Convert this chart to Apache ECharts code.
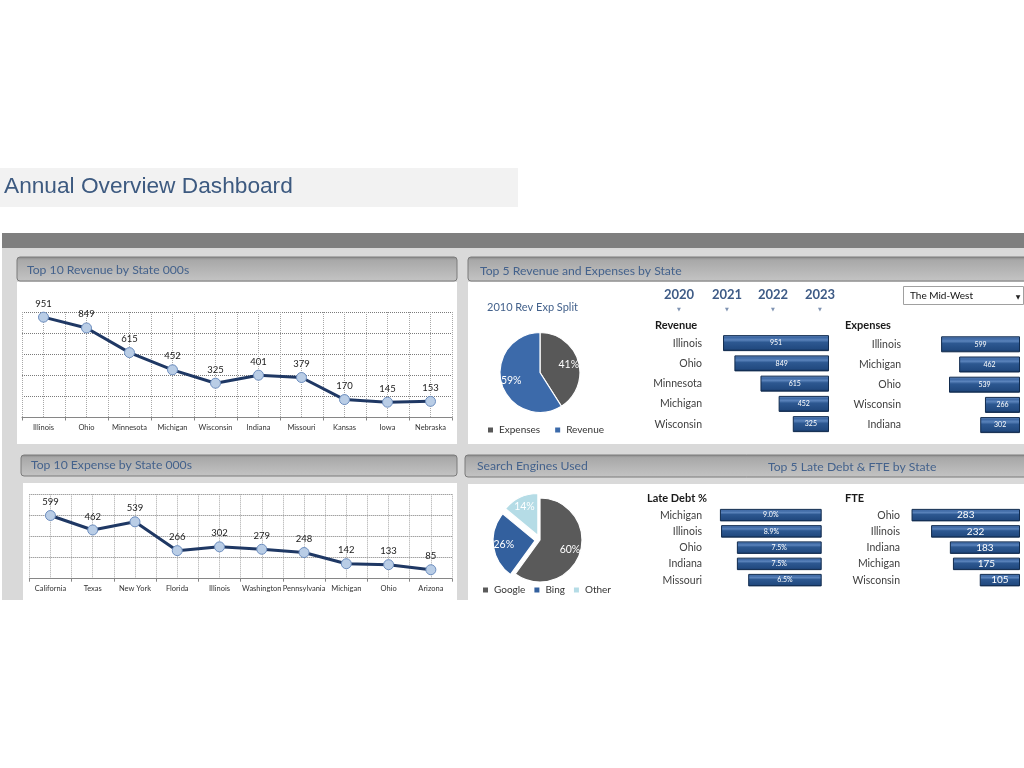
<!DOCTYPE html>
<html><head><meta charset="utf-8">
<script src="https://cdn.jsdelivr.net/npm/echarts@6/dist/echarts.min.js"></script>
<style>html,body{margin:0;padding:0;background:#fff;}#c{width:1024px;height:768px;}</style>
</head><body><div id="c"></div>
<script>
// ---------- data ----------
const revStates = ['Illinois','Ohio','Minnesota','Michigan','Wisconsin','Indiana','Missouri','Kansas','Iowa','Nebraska'];
const revValues = [951,849,615,452,325,401,379,170,145,153];
const expStates = ['California','Texas','New York','Florida','Illinois','Washington','Pennsylvania','Michigan','Ohio','Arizona'];
const expValues = [599,462,539,266,302,279,248,142,133,85];
const splitNames = ['Expenses','Revenue'];
const splitValues = [41,59];
const years = ['2020','2021','2022','2023'];
const top5RevStates = ['Illinois','Ohio','Minnesota','Michigan','Wisconsin'];
const top5RevValues = [951,849,615,452,325];
const top5ExpStates = ['Illinois','Michigan','Ohio','Wisconsin','Indiana'];
const top5ExpValues = [599,462,539,266,302];
const engineNames = ['Google','Bing','Other'];
const engineValues = [60,26,14];
const lateDebtStates = ['Michigan','Illinois','Ohio','Indiana','Missouri'];
const lateDebtValues = [9.0,8.9,7.5,7.5,6.5];
const fteStates = ['Ohio','Illinois','Indiana','Michigan','Wisconsin'];
const fteValues = [283,232,183,175,105];
const regionName = 'The Mid-West';

// ---------- styles ----------
const FONT = 'Lato, "Open Sans", sans-serif';
const TITLE_BLUE = '#44628c';
const G = echarts.graphic;
function barStyle() {
  return {
    color: new G.LinearGradient(0, 0, 0, 1, [
      {offset: 0, color: '#6e93c6'},
      {offset: 0.15, color: '#3d68a4'},
      {offset: 0.3, color: '#5a83bb'},
      {offset: 0.45, color: '#2d5891'},
      {offset: 0.85, color: '#224a80'},
      {offset: 1, color: '#0f2a4f'}
    ]),
    borderColor: '#112b4e', borderWidth: 1
  };
}
function headerFill() {
  return new G.LinearGradient(0, 0, 0, 1, [
    {offset: 0, color: '#858585'},
    {offset: 0.14, color: '#a8a8a8'},
    {offset: 1, color: '#c4c4c4'}
  ]);
}
function rect(x, y, w, h, fill, extra) {
  return Object.assign({type: 'rect', z: -10, silent: true, shape: {x, y, width: w, height: h}, style: {fill}}, extra || {});
}
function header(x, y, w, h) {
  return {type: 'rect', z: -9, silent: true, shape: {x, y, width: w, height: h, r: 3},
    style: {fill: headerFill(), stroke: '#7a7a7a', lineWidth: 1}};
}
function txt(text, x, y, size, color, opts) {
  opts = opts || {};
  return {type: 'text', z: 10, silent: true, style: Object.assign({
    text, x, y, fill: color, fontSize: size, fontFamily: opts.family || FONT,
    fontWeight: opts.weight || 'normal', align: opts.align || 'left', verticalAlign: 'middle'})};
}

const graphics = [
  rect(0, 168, 518, 39, '#f2f2f2'),
  txt('Annual Overview Dashboard', 4, 187, 22.7, '#3d5a80', {family: '"Liberation Sans", Arial, sans-serif'}),
  rect(2, 233, 1022, 15, '#7f7f7f'),
  rect(2, 248, 1022, 352, '#d9d9d9'),
  header(17, 257, 440, 24),
  header(468, 257, 560, 24),
  header(21, 455, 436, 21),
  header(465, 455, 563, 22),
  rect(17, 282, 440, 162, '#ffffff'),
  rect(468, 282, 556, 162, '#ffffff'),
  rect(23, 483, 434, 117, '#ffffff'),
  rect(468, 484, 556, 116, '#ffffff'),
  txt('Top 10 Revenue by State 000s', 27, 270, 12.2, TITLE_BLUE),
  txt('Top 5 Revenue and Expenses by State', 480, 271, 12.2, TITLE_BLUE),
  txt('Top 10 Expense by State 000s', 31, 465, 12.2, TITLE_BLUE),
  txt('Search Engines Used', 477, 466, 12.2, TITLE_BLUE),
  txt('Top 5 Late Debt & FTE by State', 768, 467, 12.2, TITLE_BLUE),
  txt('2010 Rev Exp Split', 487, 307, 11, TITLE_BLUE),
  txt('Revenue', 655, 325, 11, '#1a1a1a', {weight: 'bold'}),
  txt('Expenses', 845, 325, 11, '#1a1a1a', {weight: 'bold'}),
  txt('Late Debt %', 647, 498, 11, '#1a1a1a', {weight: 'bold'}),
  txt('FTE', 845, 498, 11, '#1a1a1a', {weight: 'bold'}),
  // dropdown
  {type: 'rect', z: 5, silent: true, shape: {x: 903.5, y: 286.5, width: 120, height: 18}, style: {fill: '#fff', stroke: '#a0a0a0', lineWidth: 1}},
  txt(regionName, 910, 295.5, 10, '#111'),
  txt('\u25BC', 1018, 297, 6, '#222', {align: 'center', family: '"DejaVu Sans", sans-serif'})
];
const yearX = [679, 727, 773, 820];
years.forEach((y, i) => {
  graphics.push(txt(y, yearX[i], 295, 13, '#3e5b86', {weight: 'bold', align: 'center'}));
  graphics.push(txt('\u25BC', yearX[i], 310, 5, '#7f93b2', {align: 'center', family: '"DejaVu Sans", sans-serif'}));
});

// ---------- axes ----------
function catX(grid, data) {
  return {type: 'category', gridIndex: grid, data, boundaryGap: true,
    axisLine: {lineStyle: {color: '#868686'}},
    axisTick: {show: true, length: 3, lineStyle: {color: '#868686'}},
    axisLabel: {fontSize: 7.5, color: '#333', margin: 6, interval: 0, fontFamily: FONT},
    splitLine: {show: false}};
}
function minorX(grid) {
  return {type: 'value', gridIndex: grid, min: 0, max: 20, interval: 1, position: 'top',
    axisLine: {show: false}, axisTick: {show: false}, axisLabel: {show: false},
    splitLine: {show: true, lineStyle: {type: 'dotted', color: '#a8a8a8'}}};
}
function valY(grid, max) {
  return {type: 'value', gridIndex: grid, min: 0, max, interval: 200,
    axisLine: {show: false}, axisTick: {show: false}, axisLabel: {show: false},
    splitLine: {show: true, lineStyle: {type: 'dotted', color: '#7a7a7a'}}};
}
function barX(grid, max) {
  return {type: 'value', gridIndex: grid, min: 0, max, inverse: true, show: false};
}
function barY(grid, data, margin) {
  return {type: 'category', gridIndex: grid, data, inverse: true, position: 'left',
    axisLine: {show: false, onZero: false}, axisTick: {show: false}, splitLine: {show: false},
    axisLabel: {fontSize: 10.5, color: '#404040', margin, fontFamily: FONT}};
}
function lineSeries(xi, yi, data) {
  return {type: 'line', xAxisIndex: xi, yAxisIndex: yi, data, symbol: 'circle', symbolSize: 10,
    lineStyle: {color: '#1f3864', width: 3},
    itemStyle: {color: '#b9cde6', borderColor: '#6d8ebf', borderWidth: 1},
    label: {show: true, position: 'top', distance: 3, fontSize: 9.5, color: '#1a1a1a', fontFamily: FONT},
    emphasis: {disabled: true}, z: 3};
}
function barSeries(xi, yi, data, width, fontSize, fmt) {
  return {type: 'bar', xAxisIndex: xi, yAxisIndex: yi, data, barWidth: width,
    itemStyle: barStyle(),
    label: {show: true, position: 'inside', color: '#fff', fontSize, fontFamily: FONT, formatter: fmt},
    emphasis: {disabled: true}};
}

const pieColors1 = ['#585858', '#3c6aaa'];
const pieColors2 = ['#5a5a5a', '#33609e', '#b5dce6'];
const pie1Data = splitNames.map((n, i) => ({name: n, value: splitValues[i], itemStyle: {color: pieColors1[i]}}));
const pie2Data = engineNames.map((n, i) => ({name: n, value: engineValues[i], selected: i > 0, itemStyle: {color: pieColors2[i]}}));
function labelRing(center, r0, r, data, extra) {
  return Object.assign({type: 'pie', center, radius: [r0, r], startAngle: 90, clockwise: true, silent: true,
    legendHoverLink: false, avoidLabelOverlap: false,
    data: data.map(d => Object.assign({}, d, {itemStyle: {color: 'rgba(0,0,0,0)', borderWidth: 0}})),
    label: {show: true, position: 'inside', formatter: '{c}%', color: '#fff', fontSize: 10.5, fontFamily: FONT},
    labelLine: {show: false}, emphasis: {disabled: true}, z: 4}, extra || {});
}

const option = {
  animation: false,
  backgroundColor: '#ffffff',
  textStyle: {fontFamily: FONT},
  graphic: {elements: graphics},
  legend: [
    {data: splitNames, left: 486, top: 425, padding: 0, icon: 'rect', itemWidth: 7, itemHeight: 7, itemGap: 13,
      selectedMode: false, textStyle: {fontSize: 10, color: '#333', fontFamily: FONT}},
    {data: engineNames, left: 481, top: 585, padding: 0, icon: 'rect', itemWidth: 7, itemHeight: 7, itemGap: 7,
      selectedMode: false, textStyle: {fontSize: 10, color: '#333', fontFamily: FONT}}
  ],
  grid: [
    {left: 22, top: 312, width: 430, height: 105.5},
    {left: 29.3, top: 494.3, width: 422.7, height: 84.4},
    {left: 712, top: 333, width: 117, height: 101.25},
    {left: 912, top: 334.2, width: 108, height: 101},
    {left: 712, top: 507, width: 109.7, height: 81.25},
    {left: 910, top: 507, width: 110, height: 81.25}
  ],
  xAxis: [
    catX(0, revStates), minorX(0),
    catX(1, expStates), minorX(1),
    barX(2, 1050), barX(3, 820), barX(4, 9.7), barX(5, 287)
  ],
  yAxis: [
    valY(0, 1000), valY(1, 800),
    barY(2, top5RevStates, 10), barY(3, top5ExpStates, 11),
    barY(4, lateDebtStates, 10), barY(5, fteStates, 10)
  ],
  series: [
    lineSeries(0, 0, revValues),
    lineSeries(2, 1, expValues),
    barSeries(4, 2, top5RevValues, 16, 7),
    barSeries(5, 3, top5ExpValues, 16, 7),
    barSeries(6, 4, lateDebtValues, 12.5, 7, p => p.value.toFixed(1) + '%'),
    barSeries(7, 5, fteValues, 12.5, 10),
    {type: 'pie', center: [540, 372.5], radius: 40, startAngle: 90, clockwise: true,
      data: pie1Data, label: {show: false}, labelLine: {show: false},
      itemStyle: {borderColor: '#ffffff', borderWidth: 1.2}, emphasis: {disabled: true}},
    {type: 'pie', center: [540, 540], radius: 42, startAngle: 90, clockwise: true,
      selectedMode: 'multiple', selectedOffset: 5,
      data: pie2Data, label: {show: false}, labelLine: {show: false},
      itemStyle: {borderColor: '#ffffff', borderWidth: 1.2}, emphasis: {disabled: true}},
    labelRing([540, 372.5], 14, 40, pie1Data),
    labelRing([540, 540], 15, 42, pie2Data, {selectedMode: 'multiple', selectedOffset: 5})
  ]
};
const chart = echarts.init(document.getElementById('c'), null, {renderer: 'canvas'});
chart.setOption(option);
</script>
</body></html>
